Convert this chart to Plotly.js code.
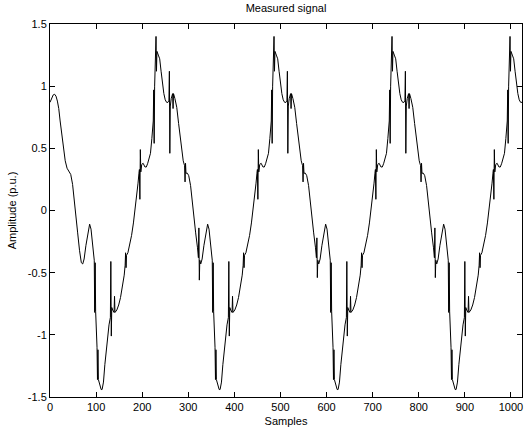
<!DOCTYPE html>
<html>
<head>
<meta charset="utf-8">
<script src="https://cdn.plot.ly/plotly-3.0.1.min.js"></script>
<style>html,body{margin:0;padding:0;background:#fff;}#chart{width:524px;height:431px;}</style>
</head>
<body>
<div id="chart"></div>
<script>
// Cycle 0 (samples 0..255) — first part has no spikes
var samplesCycle0 = [0,4,7,10,13,16,19,22,25,29,33,37,41,45,49,52,56,60,64,68,71,74,78,81,84,86,89,92,95,96,97,98,99,101,102,103,104,105,108,111,113,116,119,122,125,128,130,131,132,133,134,136,139,140,141,145,149,153,157,161,163,164,165,166,169,173,177,181,185,188,191,193,194,195,196,197,199,202,206,209,212,215,218,221,224,225,226,227,230,231,232,235,238,241,244,247,250,253];
var ampCycle0 = [0.87,0.91,0.93,0.935,0.92,0.88,0.82,0.72,0.62,0.50,0.40,0.34,0.31,0.29,0.21,0.09,-0.04,-0.18,-0.32,-0.42,-0.43,-0.39,-0.28,-0.20,-0.12,-0.11,-0.15,-0.25,-0.38,-0.40,-0.82,-0.42,-0.81,-0.95,-1.10,-1.36,-1.12,-1.36,-1.40,-1.44,-1.44,-1.38,-1.24,-1.12,-1.00,-0.92,-0.88,-0.86,-0.41,-1.01,-0.78,-0.80,-0.82,-0.69,-0.82,-0.80,-0.76,-0.70,-0.62,-0.52,-0.44,-0.34,-0.46,-0.36,-0.34,-0.27,-0.20,-0.10,0.02,0.10,0.22,0.30,0.33,0.09,0.49,0.31,0.37,0.38,0.35,0.35,0.38,0.42,0.46,0.58,0.72,0.97,0.54,1.00,1.40,1.12,1.28,1.25,1.22,1.12,1.02,0.94,0.89,0.87];

var samplesCycle1 = [256,258,259,260,261,263,266,267,268,271,275,279,282,285,289,292,293,294,295,298,301,305,308,312,316,320,322,323,324,325,327,330,334,337,340,342,345,348,351,352,353,354,355,357,358,359,360,361,364,367,369,372,375,378,381,384,386,387,388,389,390,392,395,396,397,401,405,409,413,417,419,420,421,422,425,429,433,437,441,444,447,449,450,451,452,453,455,458,462,465,468,471,474,477,480,481,482,483,486,487,488,491,494,497,500,503,506,509];
var ampCycle1 = [0.87,0.88,1.12,0.46,0.84,0.90,0.94,0.82,0.94,0.90,0.83,0.70,0.60,0.50,0.40,0.36,0.23,0.38,0.30,0.30,0.28,0.20,0.08,-0.04,-0.18,-0.30,-0.38,-0.14,-0.56,-0.40,-0.43,-0.39,-0.28,-0.20,-0.12,-0.11,-0.15,-0.25,-0.38,-0.40,-0.82,-0.42,-0.81,-0.95,-1.10,-1.36,-1.12,-1.36,-1.40,-1.44,-1.44,-1.38,-1.24,-1.12,-1.00,-0.92,-0.88,-0.86,-0.41,-1.01,-0.78,-0.80,-0.82,-0.69,-0.82,-0.80,-0.76,-0.70,-0.62,-0.52,-0.44,-0.34,-0.46,-0.36,-0.34,-0.27,-0.20,-0.10,0.02,0.10,0.22,0.30,0.33,0.09,0.49,0.31,0.37,0.38,0.35,0.35,0.38,0.42,0.46,0.58,0.72,0.97,0.54,1.00,1.40,1.12,1.28,1.25,1.22,1.12,1.02,0.94,0.89,0.87];

var samplesCycle2 = [512,514,515,516,517,519,522,523,524,527,531,535,538,541,545,548,549,550,551,554,557,561,564,568,572,576,578,579,580,581,583,586,590,593,596,598,601,604,607,608,609,610,611,613,614,615,616,617,620,623,625,628,631,634,637,640,642,643,644,645,646,648,651,652,653,657,661,665,669,673,675,676,677,678,681,685,689,693,697,700,703,705,706,707,708,709,711,714,718,721,724,727,730,733,736,737,738,739,742,743,744,747,750,753,756,759,762,765];
var ampCycle2 = [0.87,0.88,1.12,0.46,0.84,0.90,0.94,0.82,0.94,0.90,0.83,0.70,0.60,0.50,0.40,0.36,0.23,0.38,0.30,0.30,0.28,0.20,0.08,-0.04,-0.18,-0.30,-0.38,-0.22,-0.54,-0.40,-0.43,-0.39,-0.28,-0.20,-0.12,-0.11,-0.15,-0.25,-0.38,-0.40,-0.82,-0.42,-0.81,-0.95,-1.10,-1.36,-1.12,-1.36,-1.40,-1.44,-1.44,-1.38,-1.24,-1.12,-1.00,-0.92,-0.88,-0.86,-0.41,-1.01,-0.78,-0.80,-0.82,-0.69,-0.82,-0.80,-0.76,-0.70,-0.62,-0.52,-0.44,-0.34,-0.46,-0.36,-0.34,-0.27,-0.20,-0.10,0.02,0.10,0.22,0.30,0.33,0.09,0.49,0.31,0.37,0.38,0.35,0.35,0.38,0.42,0.46,0.58,0.72,0.97,0.54,1.00,1.40,1.12,1.28,1.25,1.22,1.12,1.02,0.94,0.89,0.87];

var samplesCycle3 = [768,770,771,772,773,775,778,779,780,783,787,791,794,797,801,804,805,806,807,810,813,817,820,824,828,832,834,835,836,837,839,842,846,849,852,854,857,860,863,864,865,866,867,869,870,871,872,873,876,879,881,884,887,890,893,896,898,899,900,901,902,904,907,908,909,913,917,921,925,929,931,932,933,934,937,941,945,949,953,956,959,961,962,963,964,965,967,970,974,977,980,983,986,989,992,993,994,995,998,999,1000,1003,1006,1009,1012,1015,1018,1021,1024];
var ampCycle3 = [0.87,0.88,1.12,0.46,0.84,0.90,0.94,0.82,0.94,0.90,0.83,0.70,0.60,0.50,0.40,0.36,0.23,0.38,0.30,0.30,0.28,0.20,0.08,-0.04,-0.18,-0.30,-0.38,-0.14,-0.54,-0.40,-0.43,-0.39,-0.28,-0.20,-0.12,-0.11,-0.15,-0.25,-0.38,-0.40,-0.82,-0.42,-0.81,-0.95,-1.10,-1.36,-1.12,-1.36,-1.40,-1.44,-1.44,-1.38,-1.24,-1.12,-1.00,-0.92,-0.88,-0.86,-0.41,-1.01,-0.78,-0.80,-0.82,-0.69,-0.82,-0.80,-0.76,-0.70,-0.62,-0.52,-0.44,-0.34,-0.46,-0.36,-0.34,-0.27,-0.20,-0.10,0.02,0.10,0.22,0.30,0.33,0.09,0.49,0.31,0.37,0.38,0.35,0.35,0.38,0.42,0.46,0.58,0.72,0.97,0.54,1.00,1.40,1.12,1.28,1.25,1.22,1.12,1.02,0.94,0.89,0.87,0.87];

var xTickVals = [0,100,200,300,400,500,600,700,800,900,1000];
var xTickText = ["0","100","200","300","400","500","600","700","800","900","1000"];
var yTickVals = [-1.5,-1,-0.5,0,0.5,1,1.5];
var yTickText = ["-1.5","-1","-0.5","0","0.5","1","1.5"];

var xs = samplesCycle0.concat(samplesCycle1, samplesCycle2, samplesCycle3);
var ys = ampCycle0.concat(ampCycle1, ampCycle2, ampCycle3);

var font = {family: "Liberation Sans, Arial, sans-serif", size: 11, color: "#000"};

var trace = {
  x: xs, y: ys, type: "scatter", mode: "lines",
  line: {color: "#000", width: 1},
  hoverinfo: "skip"
};

var axisCommon = {
  showline: true, linecolor: "#000", linewidth: 1,
  mirror: "ticks", ticks: "inside", ticklen: 5, tickwidth: 1, tickcolor: "#000",
  showgrid: false, zeroline: false, tickfont: font
};

var layout = {
  width: 524, height: 431,
  margin: {l: 50, r: 2, t: 24, b: 34},
  paper_bgcolor: "#fff", plot_bgcolor: "#fff",
  font: font,
  showlegend: false,
  title: {text: "Measured signal", font: font, x: 0.5, xref: "paper", y: 0.981, yref: "container", yanchor: "middle"},
  xaxis: Object.assign({}, axisCommon, {
    range: [0, 1024], tickmode: "array", tickvals: xTickVals, ticktext: xTickText,
    title: {text: "Samples", font: font, standoff: 5}
  }),
  yaxis: Object.assign({}, axisCommon, {
    range: [-1.5, 1.5], tickmode: "array", tickvals: yTickVals, ticktext: yTickText,
    title: {text: "Amplitude (p.u.)", font: font, standoff: 8}
  })
};

Plotly.newPlot("chart", [trace], layout, {staticPlot: true, displayModeBar: false});
</script>
</body>
</html>
